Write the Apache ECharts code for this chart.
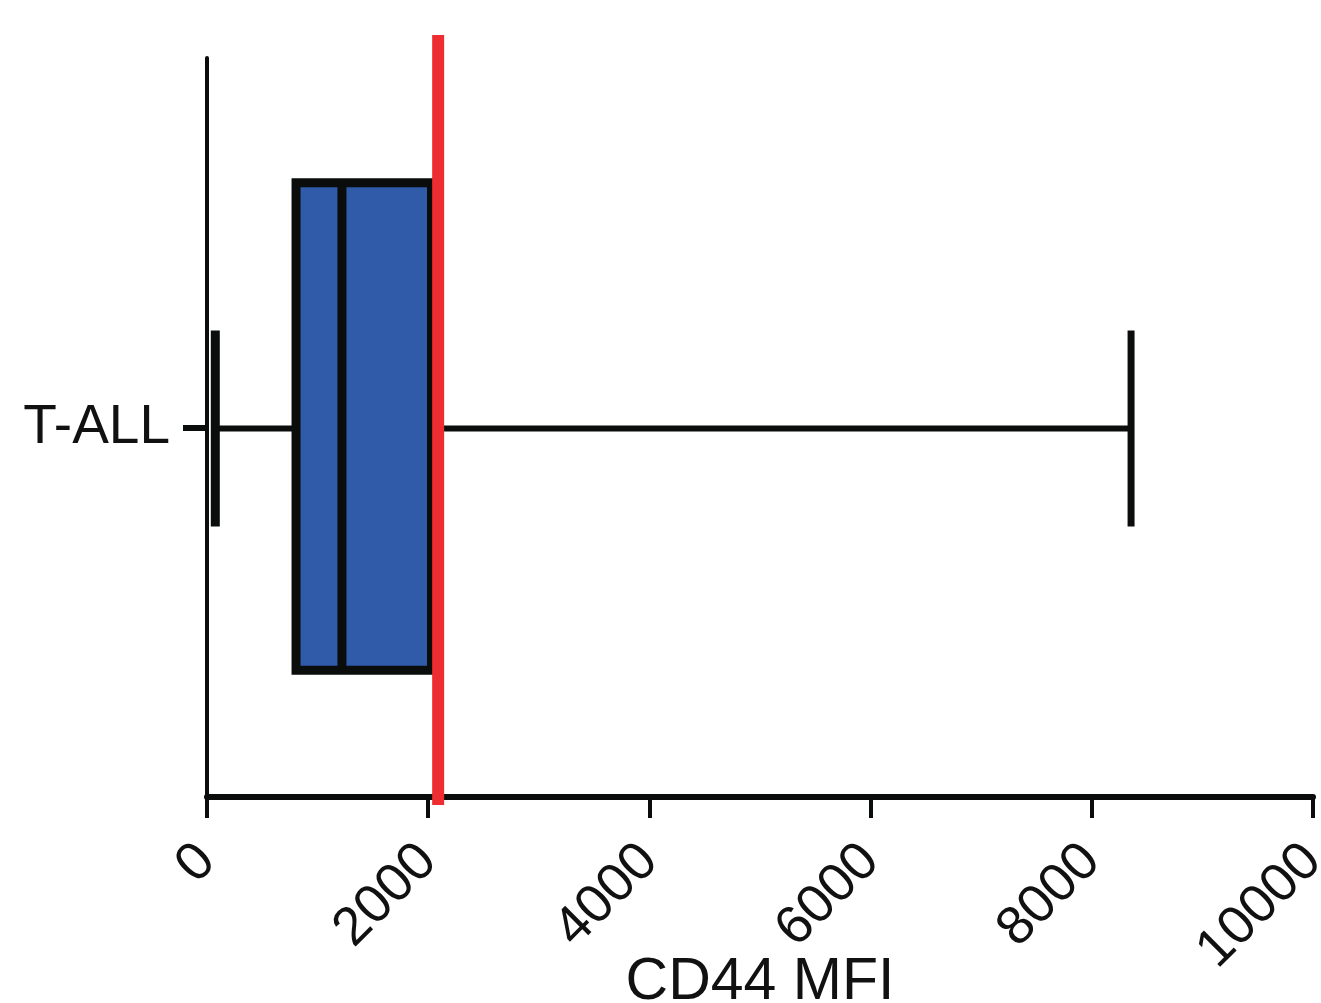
<!DOCTYPE html>
<html><head><meta charset="utf-8">
<script src="https://cdn.jsdelivr.net/npm/echarts@6/dist/echarts.min.js"></script>
<style>html,body{margin:0;padding:0;background:#fff}#c{width:1321px;height:1003px}</style>
</head><body><div id="c"></div>
<script>
// Data
const categories = ['T-ALL'];
// [min, Q1, median, Q3, max]
const boxStats = [[75, 805, 1220, 2030, 8355]];
const thresholdValue = [2090];
const xTickValues = [0, 2000, 4000, 6000, 8000, 10000];
const xAxisTitle = 'CD44 MFI';

const FONT = '"Liberation Sans", Arial, sans-serif';
const INK = '#0b0d0d';

const boxData = boxStats.map((s, i) => [i].concat(s));

const chart = echarts.init(document.getElementById('c'), null, {renderer: 'canvas'});
chart.setOption({
  animation: false,
  backgroundColor: '#ffffff',
  grid: {left: 207, right: 8, top: 58, bottom: 206, containLabel: false, outerBoundsMode: 'none'},
  xAxis: {
    type: 'value',
    min: xTickValues[0],
    max: xTickValues[xTickValues.length - 1],
    interval: xTickValues[1] - xTickValues[0],
    splitLine: {show: false},
    axisLine: {show: true, lineStyle: {color: INK, width: 6}},
    axisTick: {show: true, length: 21, lineStyle: {color: INK, width: 4}},
    axisLabel: {rotate: 45, margin: 56, fontSize: 54, color: '#111', fontFamily: FONT, hideOverlap: false,
      formatter: function (v) { return String(v); }},
    name: xAxisTitle,
    nameLocation: 'middle',
    nameGap: 156,
    nameMoveOverlap: false,
    nameTextStyle: {fontSize: 59, color: '#111', fontFamily: FONT}
  },
  yAxis: {
    type: 'category',
    data: categories,
    boundaryGap: true,
    axisLine: {show: true, lineStyle: {color: INK, width: 4}},
    axisTick: {show: true, alignWithLabel: true, length: 24, lineStyle: {color: INK, width: 6}},
    axisLabel: {margin: 37, fontSize: 55, color: '#111', fontFamily: FONT},
    splitLine: {show: false}
  },
  series: [
    {
      type: 'custom',
      data: boxData,
      encode: {x: [1, 2, 3, 4, 5], y: 0},
      z: 2,
      renderItem: function (params, api) {
        const c = api.value(0);
        const pMin = api.coord([api.value(1), c]);
        const pQ1 = api.coord([api.value(2), c]);
        const pMed = api.coord([api.value(3), c]);
        const pQ3 = api.coord([api.value(4), c]);
        const pMax = api.coord([api.value(5), c]);
        const band = api.size([0, 1])[1];
        const cy = pMin[1] + 1;
        const boxH = band * 0.66;
        const capH = band * 0.265;
        const bTop = cy - boxH / 2 - 2;
        return {
          type: 'group',
          children: [
            {type: 'line', shape: {x1: pMin[0], y1: cy, x2: pQ1[0], y2: cy}, style: {stroke: INK, lineWidth: 6}},
            {type: 'line', shape: {x1: pQ3[0], y1: cy, x2: pMax[0], y2: cy}, style: {stroke: INK, lineWidth: 6}},
            {type: 'line', shape: {x1: pMin[0], y1: cy - capH / 2, x2: pMin[0], y2: cy + capH / 2}, style: {stroke: INK, lineWidth: 9}},
            {type: 'line', shape: {x1: pMax[0], y1: cy - capH / 2, x2: pMax[0], y2: cy + capH / 2}, style: {stroke: INK, lineWidth: 7}},
            {type: 'rect', shape: {x: pQ1[0], y: bTop, width: pQ3[0] - pQ1[0], height: boxH}, style: {fill: '#2f5ba8', stroke: INK, lineWidth: 9}},
            {type: 'line', shape: {x1: pMed[0], y1: bTop, x2: pMed[0], y2: bTop + boxH}, style: {stroke: INK, lineWidth: 9}}
          ]
        };
      }
    },
    {
      type: 'custom',
      data: thresholdValue.map(v => [v, 0]),
      encode: {x: 0, y: 1},
      z: 5,
      renderItem: function (params, api) {
        const x = api.coord([api.value(0), 0])[0];
        const cs = params.coordSys;
        return {
          type: 'line',
          shape: {x1: x, y1: cs.y - 23, x2: x, y2: cs.y + cs.height + 8},
          style: {stroke: '#ee2d30', lineWidth: 12}
        };
      }
    }
  ]
});
</script>
</body></html>
